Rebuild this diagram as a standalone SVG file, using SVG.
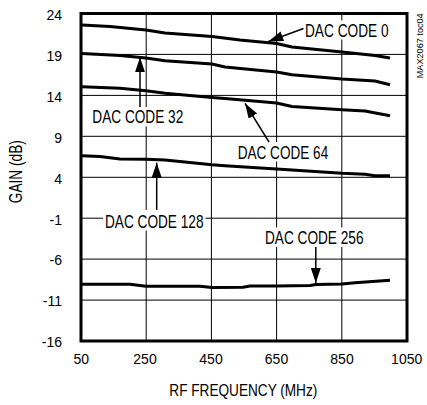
<svg xmlns="http://www.w3.org/2000/svg" width="427" height="405" viewBox="0 0 427 405">
<style>
text{font-family:"Liberation Sans",Arial,sans-serif;fill:#000}
.tick{font-size:14px}
.ty{text-anchor:end}
.tx{text-anchor:middle}
.lbl{font-size:18.5px}
.grid{stroke:#000;stroke-width:1;fill:none}
.curve{stroke:#000;stroke-width:3;fill:none;stroke-linejoin:round;stroke-linecap:butt}
.arr{stroke:#000;stroke-width:1.5;fill:none;marker-end:url(#ah)}
.bg{fill:#fff;stroke:none}
</style>
<defs>
<marker id="ah" markerUnits="userSpaceOnUse" markerWidth="16" markerHeight="11" refX="15" refY="5" orient="auto">
<path d="M0,0 L15,5 L0,10 z" fill="#000"/>
</marker>
</defs>
<rect width="427" height="405" fill="#fff"/>
<g id="grid">
<path class="grid" d="M146.2,13.5V341 M211.4,13.5V341 M276.6,13.5V341 M341.8,13.5V341 M81,54.4H407 M81,95.4H407 M81,136.3H407 M81,177.3H407 M81,218.2H407 M81,259.1H407 M81,300.1H407"/>
</g>
<g id="label-backgrounds">
<rect class="bg" x="303" y="20.5" width="87.5" height="19"/>
<rect class="bg" x="90.5" y="107" width="95" height="19.5"/>
<rect class="bg" x="235.5" y="142" width="95" height="19.5"/>
<rect class="bg" x="103" y="210" width="102.5" height="20.5"/>
<rect class="bg" x="263" y="227.5" width="102.5" height="19.5"/>
</g>
<g id="frame">
<rect x="81" y="13.5" width="326" height="327.5" fill="none" stroke="#000" stroke-width="3"/>
</g>
<g id="curves">
<polyline id="curve-0" class="curve" points="82,25 110,26.5 146,30 165,33 212,36.5 240,40 276.6,43.5 292,47 342,52 375,55.5 390,58"/>
<polyline id="curve-32" class="curve" points="82,53.5 120,55.5 146,58 165,60.7 212,64 225,67 276.6,72 292,74.7 342,79 375,81 390,84.7"/>
<polyline id="curve-64" class="curve" points="82,86.7 120,88.3 146,90.7 165,93.3 212,97.5 225,98.5 276.6,103 292,106.5 342,109.7 365,111 390,115.7"/>
<polyline id="curve-128" class="curve" points="82,155.7 100,156.5 120,159 146,159.3 165,160 212,164.8 225,165.7 276.6,169 292,170 342,173.3 365,174.3 375,175.7 390,175.7"/>
<polyline id="curve-256" class="curve" points="82,284.3 130,284.3 146,286.3 200,286.3 212,287.5 243,287.3 250,286 276.6,286 310,285.5 316,284.5 342,284 355,282.7 390,280.3"/>
</g>
<g id="connectors">
<line class="arr" x1="303.5" y1="28.5" x2="268.3" y2="41.5"/>
<line class="arr" x1="140" y1="107" x2="140" y2="57.3"/>
<line class="arr" x1="269" y1="142" x2="245" y2="103.3"/>
<line class="arr" x1="156.7" y1="210" x2="156.7" y2="162.7"/>
<line class="arr" x1="315.8" y1="247" x2="315.8" y2="283"/>
</g>
<g id="node-dac0"><text class="lbl" x="305" y="36.5" textLength="83.5" lengthAdjust="spacingAndGlyphs">DAC CODE 0</text></g>
<g id="node-dac32"><text class="lbl" x="92.3" y="123.3" textLength="91" lengthAdjust="spacingAndGlyphs">DAC CODE 32</text></g>
<g id="node-dac64"><text class="lbl" x="237.7" y="158.5" textLength="90.5" lengthAdjust="spacingAndGlyphs">DAC CODE 64</text></g>
<g id="node-dac128"><text class="lbl" x="105" y="227.5" textLength="98.5" lengthAdjust="spacingAndGlyphs">DAC CODE 128</text></g>
<g id="node-dac256"><text class="lbl" x="265" y="244" textLength="98.5" lengthAdjust="spacingAndGlyphs">DAC CODE 256</text></g>
<g id="y-axis">
<text class="tick ty" x="62" y="19.8">24</text>
<text class="tick ty" x="62" y="60.7">19</text>
<text class="tick ty" x="62" y="101.7">14</text>
<text class="tick ty" x="62" y="142.6">9</text>
<text class="tick ty" x="62" y="183.6">4</text>
<text class="tick ty" x="62" y="224.5">-1</text>
<text class="tick ty" x="62" y="265.4">-6</text>
<text class="tick ty" x="62" y="306.4">-11</text>
<text class="tick ty" x="62" y="347.3">-16</text>
<text transform="translate(21.5,171.7) rotate(-90)" text-anchor="middle" font-size="18" textLength="63" lengthAdjust="spacingAndGlyphs">GAIN (dB)</text>
</g>
<g id="x-axis">
<text class="tick tx" x="81.3" y="363.5">50</text>
<text class="tick tx" x="145" y="363.5">250</text>
<text class="tick tx" x="211" y="363.5">450</text>
<text class="tick tx" x="276.5" y="363.5">650</text>
<text class="tick tx" x="342" y="363.5">850</text>
<text class="tick tx" x="406.7" y="363.5">1050</text>
<text x="243.3" y="395.5" text-anchor="middle" font-size="17" textLength="148" lengthAdjust="spacingAndGlyphs">RF FREQUENCY (MHz)</text>
</g>
<g id="figure-id">
<text transform="translate(422.7,45.8) rotate(-90)" text-anchor="middle" font-size="8.5" textLength="65" lengthAdjust="spacingAndGlyphs">MAX2067 toc04</text>
</g>
</svg>
